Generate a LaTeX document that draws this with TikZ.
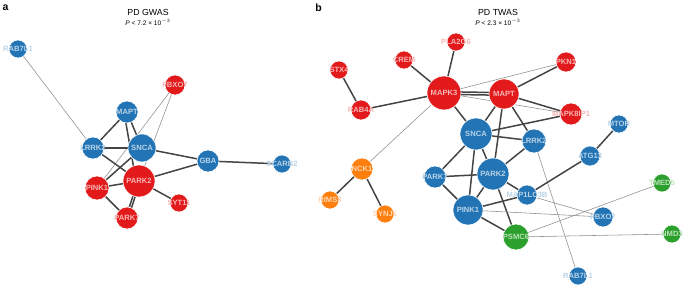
\documentclass[tikz,border=0pt]{standalone}
\usepackage{fontspec}
\setmainfont{Liberation Sans}
\usetikzlibrary{backgrounds}
\definecolor{nblue}{HTML}{2374B5}
\definecolor{nred}{HTML}{E31A1C}
\definecolor{norange}{HTML}{FF7F0E}
\definecolor{ngreen}{HTML}{2CA02C}
\definecolor{edgedark}{HTML}{444444}
\definecolor{edgelight}{HTML}{8C8C8C}
\newcommand\gtxt[1]{\makebox[0pt]{#1}}
\tikzset{
  gene/.style={circle, draw=white, line width=0.6pt, inner sep=0pt, font=\fontsize{7.6}{8}\selectfont\bfseries},
  gb/.style={gene, fill=nblue, text=nblue!32!white},
  gr/.style={gene, fill=nred, text=nred!32!white},
  go/.style={gene, fill=norange, text=norange!32!white},
  gg/.style={gene, fill=ngreen, text=ngreen!32!white},
  sz/.style={minimum size=#1pt},
  heavy/.style={draw=edgedark, line width=1.5pt},
  light/.style={draw=edgelight, line width=0.55pt},
  ttl/.style={font=\fontsize{8.8}{10}\selectfont},
  sub/.style={font=\fontsize{6.6}{7}\selectfont},
  plabel/.style={font=\fontsize{10.5}{11}\selectfont\bfseries}
}
\begin{document}
\begin{tikzpicture}[x=1pt,y=-1pt]
\useasboundingbox (0,0) rectangle (685,286);
% panel labels and titles
\node[plabel] (la) at (5.5,8) {a};
\node[plabel] (lb) at (318.5,8) {b};
\node[ttl] (ta) at (148,12) {PD GWAS};
\node[sub] (sa) at (148,22.5) {\textit{P} < 7.2 × 10$^{-3}$};
\node[ttl] (tb) at (498,12) {PD TWAS};
\node[sub] (sb) at (498,22.5) {\textit{P} < 2.3 × 10$^{-3}$};

% ---------- panel a nodes ----------
\node[gb,sz=18] (a-RAB7L1) at (18,49) {\gtxt{RAB7L1}};
\node[gr,sz=20] (a-FBXO7) at (175,85) {\gtxt{FBXO7}};
\node[gb,sz=22] (a-MAPT) at (127,112) {\gtxt{MAPT}};
\node[gb,sz=22] (a-LRRK2) at (93,148) {\gtxt{LRRK2}};
\node[gb,sz=28] (a-SNCA) at (142,148) {\gtxt{SNCA}};
\node[gb,sz=22] (a-GBA) at (208,161) {\gtxt{GBA}};
\node[gb,sz=18] (a-SCARB2) at (282,164) {\gtxt{SCARB2}};
\node[gr,sz=24] (a-PINK1) at (97,188) {\gtxt{PINK1}};
\node[gr,sz=32] (a-PARK2) at (139,181) {\gtxt{PARK2}};
\node[gr,sz=18] (a-SYT11) at (179,203) {\gtxt{SYT11}};
\node[gr,sz=22] (a-PARK7) at (127,218) {\gtxt{PARK7}};

% ---------- panel b nodes ----------
\node[gr,sz=18] (b-PLA2G6) at (456,42) {\gtxt{PLA2G6}};
\node[gr,sz=18] (b-CREM) at (404,60) {\gtxt{CREM}};
\node[gr,sz=18] (b-STX4) at (339,70) {\gtxt{STX4}};
\node[gr,sz=20] (b-PKN1) at (566,62) {\gtxt{PKN1}};
\node[gr,sz=34] (b-MAPK3) at (444,93) {\gtxt{MAPK3}};
\node[gr,sz=30] (b-MAPT) at (504,94) {\gtxt{MAPT}};
\node[gr,sz=20] (b-RAB4A) at (361,110) {\gtxt{RAB4A}};
\node[gr,sz=22] (b-MAPK8IP1) at (571,114) {\gtxt{MAPK8IP1}};
\node[gb,sz=32] (b-SNCA) at (476,134) {\gtxt{SNCA}};
\node[gb,sz=24] (b-LRRK2) at (534,141) {\gtxt{LRRK2}};
\node[gb,sz=18] (b-MTOR) at (619,124) {\gtxt{MTOR}};
\node[go,sz=22] (b-NCK1) at (362,169) {\gtxt{NCK1}};
\node[go,sz=18] (b-RIMS3) at (330,200) {\gtxt{RIMS3}};
\node[go,sz=18] (b-SYNJ1) at (385,214) {\gtxt{SYNJ1}};
\node[gb,sz=22] (b-PARK7) at (435,177) {\gtxt{PARK7}};
\node[gb,sz=32] (b-PARK2) at (493,174) {\gtxt{PARK2}};
\node[gb,sz=30] (b-PINK1) at (468,210) {\gtxt{PINK1}};
\node[gb,sz=20] (b-MAP1LC3B) at (527,195) {\gtxt{MAP1LC3B}};
\node[gb,sz=20] (b-ATG13) at (590,156) {\gtxt{ATG13}};
\node[gg,sz=18] (b-TMED5) at (662,183) {\gtxt{TMED5}};
\node[gb,sz=20] (b-FBXO7) at (603,217) {\gtxt{FBXO7}};
\node[gg,sz=26] (b-PSMC6) at (516,237) {\gtxt{PSMC6}};
\node[gg,sz=18] (b-NMD3) at (672,234) {\gtxt{NMD3}};
\node[gb,sz=18] (b-RAB7L1) at (578,276) {\gtxt{RAB7L1}};

% ---------- edges (behind nodes) ----------
\begin{scope}[on background layer]
% panel a
\draw[light] (a-RAB7L1.center) -- (a-LRRK2.center);
\draw[light] (a-FBXO7.center) -- (a-PINK1.center);
\draw[light] (a-FBXO7.center) -- (a-PARK2.center);
\draw[heavy] (a-MAPT.center) -- (a-LRRK2.center);
\draw[heavy] (a-MAPT.center) -- (a-SNCA.center);
\draw[heavy] ([xshift=-3pt]a-MAPT.center) -- ([xshift=-3pt]a-PARK2.center);
\draw[heavy] (a-LRRK2.center) -- (a-SNCA.center);
\draw[heavy] (a-LRRK2.center) -- (a-PARK2.center);
\draw[heavy] (a-SNCA.center) -- (a-GBA.center);
\draw[heavy] (a-PARK2.center) -- (a-GBA.center);
\draw[heavy] (a-GBA.center) -- (a-SCARB2.center);
\draw[heavy] (a-SNCA.center) -- (a-PINK1.center);
\draw[heavy] (a-PINK1.center) -- (a-PARK2.center);
\draw[heavy] (a-PINK1.center) -- (a-PARK7.center);
\draw[heavy] ([xshift=-1.2pt]a-PARK2.center) -- ([xshift=-1.2pt]a-PARK7.center);
\draw[heavy] ([xshift=1.2pt]a-PARK2.center) -- ([xshift=1.2pt]a-PARK7.center);
\draw[heavy] (a-PARK2.center) -- (a-SYT11.center);
% panel b
\draw[heavy] (b-STX4.center) -- (b-RAB4A.center);
\draw[heavy] (b-RAB4A.center) -- (b-MAPK3.center);
\draw[heavy] (b-CREM.center) -- (b-MAPK3.center);
\draw[heavy] (b-PLA2G6.center) -- (b-MAPK3.center);
\draw[light] (b-MAPK3.center) -- (b-PKN1.center);
\draw[light] (b-MAPK3.center) -- (b-MAPK8IP1.center);
\draw[heavy] ([yshift=-1.3pt]b-MAPK3.center) -- ([yshift=-1.3pt]b-MAPT.center);
\draw[heavy] ([yshift=1.3pt]b-MAPK3.center) -- ([yshift=1.3pt]b-MAPT.center);
\draw[heavy] (b-MAPT.center) -- (b-PKN1.center);
\draw[heavy] (b-MAPT.center) -- (b-MAPK8IP1.center);
\draw[heavy] (b-MAPK3.center) -- (b-SNCA.center);
\draw[light] (b-MAPK3.center) -- (b-NCK1.center);
\draw[heavy] (b-MAPT.center) -- (b-SNCA.center);
\draw[heavy] (b-MAPT.center) -- (b-LRRK2.center);
\draw[heavy] (b-MAPT.center) -- (b-PARK2.center);
\draw[heavy] (b-SNCA.center) -- (b-MAPK8IP1.center);
\draw[heavy] (b-SNCA.center) -- (b-LRRK2.center);
\draw[heavy] (b-SNCA.center) -- (b-PARK7.center);
\draw[heavy] (b-SNCA.center) -- (b-PARK2.center);
\draw[heavy] (b-SNCA.center) -- (b-PINK1.center);
\draw[heavy] (b-LRRK2.center) -- (b-PARK2.center);
\draw[light] (b-LRRK2.center) -- (b-RAB7L1.center);
\draw[heavy] (b-PARK2.center) -- (b-PARK7.center);
\draw[heavy] (b-PARK2.center) -- (b-PINK1.center);
\draw[heavy] (b-PARK2.center) -- (b-MAP1LC3B.center);
\draw[heavy] (b-PARK2.center) -- (b-PSMC6.center);
\draw[heavy] (b-PARK7.center) -- (b-PINK1.center);
\draw[heavy] (b-PINK1.center) -- (b-MAP1LC3B.center);
\draw[light] (b-PINK1.center) -- (b-FBXO7.center);
\draw[heavy] (b-PINK1.center) -- (b-PSMC6.center);
\draw[heavy] (b-MAP1LC3B.center) -- (b-ATG13.center);
\draw[light] (b-MAP1LC3B.center) -- (b-FBXO7.center);
\draw[heavy] (b-ATG13.center) -- (b-MTOR.center);
\draw[light] (b-PSMC6.center) -- (b-TMED5.center);
\draw[light] (b-PSMC6.center) -- (b-NMD3.center);
\draw[heavy] (b-NCK1.center) -- (b-RIMS3.center);
\draw[heavy] (b-NCK1.center) -- (b-SYNJ1.center);
\end{scope}
\end{tikzpicture}
\end{document}
